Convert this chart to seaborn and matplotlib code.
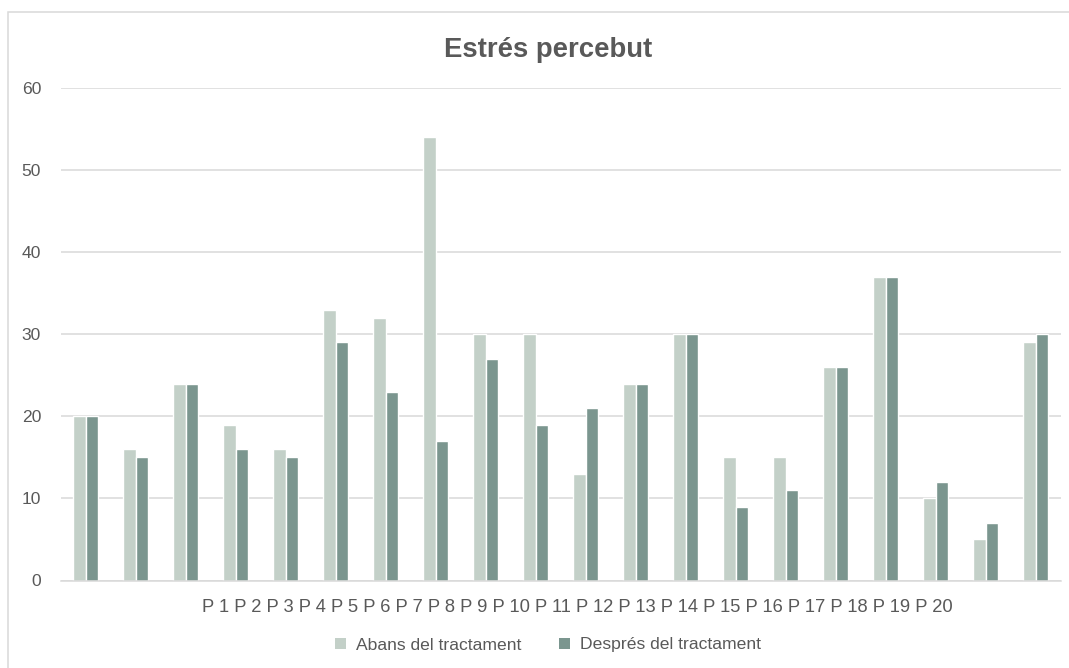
import matplotlib
matplotlib.use("Agg")
import matplotlib.pyplot as plt
import seaborn as sns
import pandas as pd
from matplotlib.patches import Patch, Rectangle

# Perceived stress scores per participant, before and after treatment
participants = [f"P {i}" for i in range(1, 21)]
abans = [20, 16, 24, 19, 16, 33, 32, 54, 30, 30, 13, 24, 30, 15, 15, 26, 37, 10, 5, 29]
despres = [20, 15, 24, 16, 15, 29, 23, 17, 27, 19, 21, 24, 30, 9, 11, 26, 37, 12, 7, 30]
series_names = ["Abans del tractament", "Després del tractament"]
y_ticks = [0, 10, 20, 30, 40, 50, 60]
title = "Estrés percebut"

colors = ["#C3D0C8", "#7B968F"]
text_color = "#595959"
grid_color = "#D9D9D9"

df = pd.DataFrame({
    "participant": participants * 2,
    "valor": abans + despres,
    "moment": [series_names[0]] * len(abans) + [series_names[1]] * len(despres),
})

sns.set_theme(style="white")
plt.rcParams["font.family"] = ["Liberation Sans", "DejaVu Sans"]

fig = plt.figure(figsize=(10.69, 6.68), dpi=100)
ax = fig.add_axes([60.5 / 1069, 1 - 580.5 / 668, 1000 / 1069, (580.5 - 88) / 668])

sns.barplot(
    data=df, x="participant", y="valor", hue="moment",
    palette=colors, width=0.5, edgecolor="white", linewidth=1.0,
    ax=ax, legend=False, errorbar=None, saturation=1,
)

ax.set_ylim(0, 60)
ax.set_xlim(-0.5, len(participants) - 0.5)
ax.set_yticks(y_ticks)
ax.set_yticklabels([str(v) for v in y_ticks], color=text_color, fontsize=12.6)
ax.tick_params(axis="y", length=0, pad=14)
ax.set_xticks([])
ax.set_xlabel("")
ax.set_ylabel("")

ax.yaxis.grid(True, color=grid_color, linewidth=1.1)
ax.set_axisbelow(True)
for side in ["left", "right", "top"]:
    ax.spines[side].set_visible(False)
ax.spines["bottom"].set_color(grid_color)
ax.spines["bottom"].set_linewidth(1.1)

# Category labels run together as one line under the axis
fig.text(577.5 / 1069, 1 - 607 / 668, " ".join(participants),
         ha="center", va="center", color=text_color, fontsize=13.2)

fig.text(548 / 1069, 1 - 50 / 668, title, ha="center", va="center",
         color=text_color, fontsize=19.8, fontweight="bold")

handles = [Patch(facecolor=c, edgecolor="none") for c in colors]
fig.legend(handles, series_names, loc="center", ncol=2,
           bbox_to_anchor=(548 / 1069, 1 - 645 / 668), frameon=False,
           fontsize=12.6, labelcolor=text_color, handlelength=0.65,
           handleheight=0.65, handletextpad=0.6, columnspacing=2.1)

# Chart area border
fig.patches.append(Rectangle((8 / 1069, -0.1), 1.2, 1 - 12 / 668 + 0.1,
                             transform=fig.transFigure, fill=False,
                             edgecolor=grid_color, linewidth=1.1))

fig.savefig("out.png", dpi=100, facecolor="white")
